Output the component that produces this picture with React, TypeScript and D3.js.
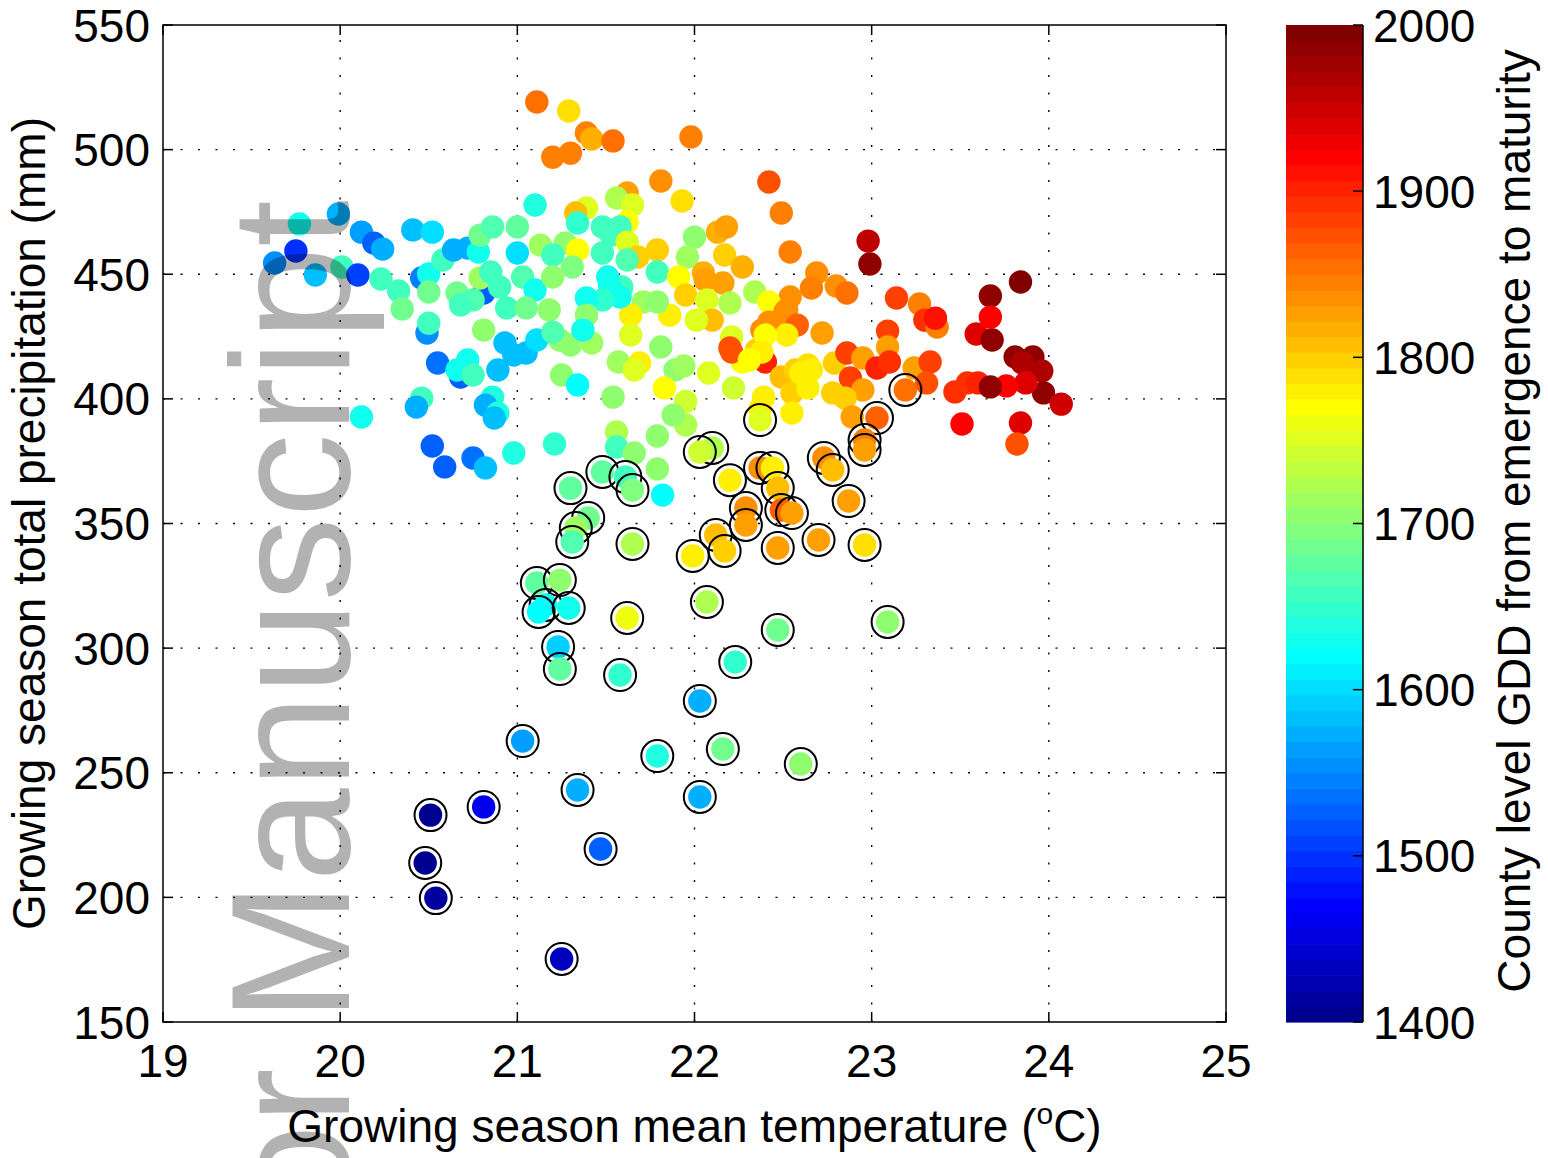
import React from "react";
import * as d3 from "d3";

// Counties: growing-season mean temperature (°C), total precipitation (mm), GDD
const countyTemp = [
  19.75, 19.63, 19.77, 19.99, 19.86, 20.01, 20.10, 20.12, 20.19, 20.24, 20.23, 20.33, 20.35, 20.41, 20.52, 20.46,
  20.50, 20.50, 20.49, 20.50, 20.58, 20.64, 20.72, 20.78, 20.79, 20.86, 21.00, 21.10, 21.00, 21.13, 20.81, 20.79,
  20.85, 20.66, 20.75, 20.68, 20.90, 21.03, 21.10, 20.94, 21.05, 20.81, 20.93, 20.98, 21.05, 21.11, 20.55, 20.68,
  20.66, 20.72, 20.75, 20.89, 20.46, 20.43, 20.86, 20.82, 20.89, 20.87, 20.12, 20.52, 20.59, 20.75, 20.82, 20.98,
  21.11, 21.29, 21.39, 21.42, 21.54, 21.20, 21.30, 21.98, 21.81, 21.93, 22.42, 22.49, 22.54, 21.62, 21.56, 21.65,
  21.39, 21.33, 21.34, 21.48, 21.62, 21.58, 21.53, 21.62, 21.68, 21.27, 21.34, 21.20, 21.48, 21.62, 21.79, 22.00,
  22.13, 22.18, 21.96, 22.17, 22.27, 22.54, 21.79, 21.91, 22.05, 22.06, 22.16, 22.34, 22.42, 22.52, 21.95, 22.07,
  22.20, 22.10, 22.01, 21.86, 21.71, 21.79, 21.64, 21.64, 21.59, 21.51, 21.52, 21.58, 21.48, 21.39, 21.39, 21.31,
  21.20, 21.18, 21.24, 21.30, 21.42, 21.37, 21.20, 21.25, 21.34, 21.54, 21.57, 21.69, 21.66, 21.81, 21.89, 21.94,
  21.83, 21.95, 22.08, 22.22, 22.21, 22.20, 22.27, 22.35, 22.40, 22.49, 22.39, 22.57, 22.55, 22.49, 22.42, 22.38,
  22.98, 22.99, 22.69, 22.66, 22.80, 22.86, 23.14, 23.27, 23.30, 23.37, 23.36, 23.59, 23.09, 23.09, 22.72, 22.51,
  22.58, 22.52, 22.40, 22.21, 22.38, 22.31, 21.95, 22.37, 22.55, 22.64, 22.60, 22.66, 22.64, 22.79, 22.86, 22.95,
  23.03, 22.88, 22.95, 22.78, 22.85, 23.10, 23.24, 23.33, 23.31, 22.89, 23.47, 23.54, 23.60, 23.51,
  23.84, 23.67, 23.67, 23.68, 23.81, 23.91, 23.85, 23.96, 23.97, 24.07, 23.87, 23.76, 23.67, 23.84, 23.82,
  21.56, 21.56, 21.66, 21.79, 21.79, 21.82, 21.21, 21.88,
];
const countyPrecip = [
  459.3, 454.5, 470.2, 474.2, 449.7, 452.9, 449.7, 466.9, 462.5, 460.1, 448.1, 443.3, 436.1, 467.8, 466.9, 448.5,
  450.1, 442.9, 426.4, 430.4, 455.7, 459.7, 460.5, 458.9, 465.7, 469.0, 469.0, 477.8, 458.5, 461.7, 442.5, 448.5,
  450.9, 442.5, 439.7, 437.7, 444.9, 448.9, 443.7, 436.5, 436.5, 427.6, 422.4, 417.6, 418.4, 423.6, 414.4, 408.8,
  411.6, 415.6, 409.6, 411.6, 400.3, 396.7, 400.7, 397.5, 394.3, 392.3, 392.7, 381.1, 372.7, 376.3, 372.3, 378.3,
  519.1, 515.5, 506.7, 504.3, 503.5, 497.0, 498.6, 505.1, 487.4, 479.4, 487.0, 474.6, 458.9, 482.6, 480.6, 477.8,
  476.6, 474.6, 470.6, 469.0, 471.0, 469.0, 465.7, 462.9, 456.9, 462.5, 459.7, 457.7, 458.5, 455.7, 459.7, 464.9,
  466.9, 469.0, 456.9, 457.7, 452.9, 440.9, 450.9, 448.9, 450.5, 447.7, 446.5, 442.9, 438.9, 435.7, 441.7, 439.7,
  438.5, 431.6, 431.6, 433.6, 438.9, 438.9, 433.6, 425.6, 444.9, 448.9, 445.7, 440.9, 439.7, 440.5, 433.6, 452.9,
  448.9, 435.7, 423.6, 421.6, 422.4, 427.6, 426.8, 409.6, 405.6, 400.7, 414.8, 414.4, 411.6, 420.8, 411.6, 413.2,
  404.4, 399.0, 410.4, 404.4, 424.8, 420.4, 414.8, 419.6, 414.8, 408.8, 400.7, 411.6, 402.4, 428.8, 430.8, 427.6,
  463.3, 454.1, 450.5, 444.5, 445.3, 442.5, 440.5, 438.1, 431.6, 428.8, 432.4, 426.0, 427.2, 420.8, 426.4, 434.8,
  429.6, 425.6, 425.6, 418.8, 418.8, 415.6, 389.5, 395.9, 394.3, 413.6, 410.4, 411.6, 404.4, 414.4, 418.4, 416.4,
  412.4, 408.4, 403.6, 402.4, 400.3, 414.8, 412.4, 414.8, 406.4, 392.7, 402.8, 406.4, 406.4, 389.9,
  446.9, 441.3, 432.8, 423.6, 416.8, 416.8, 414.4, 411.2, 402.4, 397.9, 406.4, 405.2, 404.8, 390.3, 381.9,
  386.7, 380.7, 378.3, 385.1, 371.9, 361.4, 381.9, 393.5,
];
const countyGdd = [
  1500, 1550, 1625, 1569, 1587, 1660, 1512, 1560, 1531, 1569, 1662, 1662, 1690, 1587, 1606, 1545,
  1625, 1690, 1550, 1662, 1660, 1578, 1578, 1625, 1690, 1665, 1681, 1635, 1597, 1710, 1531, 1712,
  1662, 1690, 1665, 1660, 1660, 1665, 1625, 1662, 1690, 1700, 1587, 1587, 1587, 1597, 1540, 1531,
  1625, 1625, 1660, 1587, 1655, 1569, 1640, 1569, 1635, 1587, 1625, 1531, 1531, 1540, 1587, 1635,
  1850, 1788, 1843, 1815, 1850, 1845, 1845, 1843, 1835, 1785, 1878, 1845, 1843, 1830, 1725, 1750,
  1752, 1805, 1650, 1655, 1770, 1660, 1655, 1750, 1800, 1705, 1770, 1660, 1660, 1665, 1797, 1700,
  1815, 1830, 1712, 1800, 1815, 1840, 1660, 1772, 1815, 1830, 1830, 1722, 1772, 1838, 1797, 1750,
  1720, 1812, 1750, 1778, 1712, 1705, 1775, 1755, 1660, 1625, 1625, 1625, 1650, 1625, 1700, 1695,
  1700, 1700, 1700, 1705, 1710, 1625, 1665, 1700, 1620, 1700, 1710, 1775, 1755, 1700, 1705, 1710,
  1768, 1745, 1752, 1742, 1755, 1870, 1772, 1800, 1905, 1812, 1775, 1800, 1800, 1797, 1835, 1835,
  1957, 1990, 1838, 1842, 1840, 1855, 1887, 1843, 1890, 1845, 1912, 1940, 1885, 1825, 1828, 1838,
  1860, 1775, 1770, 1875, 1775, 1772, 1720, 1775, 1775, 1788, 1780, 1782, 1780, 1802, 1885, 1825,
  1905, 1885, 1828, 1800, 1800, 1895, 1822, 1885, 1875, 1828, 1895, 1890, 1897, 1922,
  1995, 1990, 1920, 1985, 1988, 1985, 1970, 1965, 1988, 1948, 1938, 1920, 1990, 1940, 1875,
  1722, 1660, 1705, 1705, 1705, 1620, 1650, 1700,
];

// Ringed counties
const ringedTemp = [
  22.37, 22.10, 22.03, 22.37, 22.44, 22.20, 22.47, 22.73, 22.78, 23.03, 22.96, 22.96, 23.19, 22.87, 22.96, 22.70,
  22.49, 22.55, 22.29, 22.29, 22.12, 22.17, 21.99, 22.47, 21.30, 21.48, 21.61, 21.65, 21.40, 21.33, 21.31, 21.65,
  21.11, 21.24, 21.16, 21.12, 21.29, 21.62, 22.07, 22.47, 23.09, 21.23, 21.24, 21.58, 22.23, 22.03, 21.03, 21.79,
  22.16, 22.60, 21.34, 22.03, 20.51, 20.81, 20.48, 20.54, 21.47, 21.25,
];
const ringedPrecip = [
  391.5, 380.3, 378.7, 372.3, 372.3, 367.4, 364.2, 376.3, 371.5, 392.3, 383.5, 379.5, 403.6, 359.0, 341.4, 343.4,
  355.4, 354.2, 356.2, 349.4, 345.4, 339.0, 337.0, 340.2, 364.2, 370.7, 368.7, 363.4, 352.2, 348.2, 342.6, 341.8,
  326.1, 327.3, 317.3, 314.5, 316.1, 312.1, 318.5, 307.3, 310.5, 300.5, 291.6, 289.2, 294.4, 278.8, 262.7, 256.7,
  259.5, 253.5, 243.1, 240.3, 233.0, 236.3, 213.8, 199.7, 219.4, 175.3,
];
const ringedGdd = [
  1752, 1722, 1740, 1835, 1775, 1775, 1805, 1840, 1805, 1868, 1843, 1830, 1850, 1828, 1788, 1828,
  1865, 1830, 1840, 1828, 1805, 1795, 1775, 1830, 1680, 1678, 1660, 1695, 1690, 1715, 1665, 1722,
  1680, 1700, 1620, 1622, 1625, 1758, 1725, 1690, 1700, 1590, 1680, 1650, 1648, 1578, 1560, 1638,
  1690, 1700, 1569, 1575, 1409, 1457, 1409, 1412, 1531, 1433,
];

const xTicks = [19, 20, 21, 22, 23, 24, 25];
const yTicks = [150, 200, 250, 300, 350, 400, 450, 500, 550];
const gddTicks = [1400, 1500, 1600, 1700, 1800, 1900, 2000];

// MATLAB-style jet colormap with m entries
function jet(m: number): string[] {
  const n = Math.ceil(m / 4);
  const u: number[] = [];
  for (let i = 1; i <= n; i++) u.push(i / n);
  for (let i = 1; i < n; i++) u.push(1);
  for (let i = n; i >= 1; i--) u.push(i / n);
  const g0 = Math.ceil(n / 2) - (m % 4 === 1 ? 1 : 0);
  const rows = Array.from({ length: m }, () => [0, 0, 0]);
  u.forEach((val, i) => {
    const g = g0 + i + 1;
    const r = g + n;
    const b = g - n;
    if (r >= 1 && r <= m) rows[r - 1][0] = val;
    if (g >= 1 && g <= m) rows[g - 1][1] = val;
    if (b >= 1 && b <= m) rows[b - 1][2] = val;
  });
  return rows.map(([r, g, b]) => d3.rgb(r * 255, g * 255, b * 255).formatHex());
}

const FONT = "'Liberation Sans', Arial, Helvetica, sans-serif";

export default function App() {
  const W = 1548;
  const H = 1158;
  const plot = { left: 163, right: 1226, top: 25, bottom: 1022 };
  const cb = { left: 1286, right: 1363 };

  const x = d3.scaleLinear().domain([19, 25]).range([plot.left, plot.right]);
  const y = d3.scaleLinear().domain([150, 550]).range([plot.bottom, plot.top]);
  const palette = jet(64);
  const color = d3.scaleQuantize<string>().domain([1400, 2000]).range(palette);
  const cbY = d3.scaleLinear().domain([1400, 2000]).range([plot.bottom, plot.top]);
  const bandStep = (2000 - 1400) / palette.length;

  const dotR = 11.7;
  const ringR = 16;
  const tickLen = 10;
  const fs = 46;

  return (
    <svg
      width={W}
      height={H}
      viewBox={`0 0 ${W} ${H}`}
      style={{ position: "absolute", left: 0, top: 0, background: "#fff" }}
      fontFamily={FONT}
    >
      <rect x={0} y={0} width={W} height={H} fill="#fff" />

      {/* dotted grid */}
      <g stroke="#000" strokeWidth={1.4} strokeDasharray="2 15.5">
        {xTicks.slice(1, -1).map((t) => (
          <line key={`gx${t}`} x1={x(t)} x2={x(t)} y1={plot.bottom} y2={plot.top} />
        ))}
        {yTicks.slice(1, -1).map((t) => (
          <line key={`gy${t}`} x1={plot.left} x2={plot.right} y1={y(t)} y2={y(t)} />
        ))}
      </g>

      {/* counties */}
      <g>
        {countyTemp.map((t, i) => (
          <circle key={`c${i}`} cx={x(t)} cy={y(countyPrecip[i])} r={dotR} fill={color(countyGdd[i])} />
        ))}
      </g>
      <g>
        {ringedTemp.map((t, i) => (
          <g key={`r${i}`}>
            <circle cx={x(t)} cy={y(ringedPrecip[i])} r={ringR} fill="none" stroke="#000" strokeWidth={2} />
            <circle cx={x(t)} cy={y(ringedPrecip[i])} r={dotR} fill={color(ringedGdd[i])} />
          </g>
        ))}
      </g>

      {/* axes box and inward ticks */}
      <g stroke="#000" strokeWidth={1.5}>
        <rect x={plot.left} y={plot.top} width={plot.right - plot.left} height={plot.bottom - plot.top} fill="none" />
        {xTicks.map((t) => (
          <g key={`tx${t}`}>
            <line x1={x(t)} x2={x(t)} y1={plot.bottom} y2={plot.bottom - tickLen} />
            <line x1={x(t)} x2={x(t)} y1={plot.top} y2={plot.top + tickLen} />
          </g>
        ))}
        {yTicks.map((t) => (
          <g key={`ty${t}`}>
            <line x1={plot.left} x2={plot.left + tickLen} y1={y(t)} y2={y(t)} />
            <line x1={plot.right} x2={plot.right - tickLen} y1={y(t)} y2={y(t)} />
          </g>
        ))}
      </g>

      {/* tick labels */}
      <g fontSize={fs} fill="#000">
        {xTicks.map((t) => (
          <text key={`lx${t}`} x={x(t)} y={1077} textAnchor="middle">
            {t}
          </text>
        ))}
        {yTicks.map((t) => (
          <text key={`ly${t}`} x={150} y={y(t) + 16.5} textAnchor="end">
            {t}
          </text>
        ))}
      </g>

      {/* axis titles */}
      <text x={(plot.left + plot.right) / 2} y={1142} textAnchor="middle" fontSize={fs} fill="#000">
        Growing season mean temperature (
        <tspan fontSize={30} dy={-18}>o</tspan>
        <tspan dy={18}>C)</tspan>
      </text>
      <text
        transform={`translate(45, ${(plot.top + plot.bottom) / 2}) rotate(-90)`}
        textAnchor="middle"
        fontSize={fs}
        fill="#000"
      >
        Growing season total precipitation (mm)
      </text>

      {/* colorbar */}
      <g>
        {palette.map((c, i) => {
          const v0 = 1400 + i * bandStep;
          const v1 = v0 + bandStep;
          return (
            <rect
              key={`cb${i}`}
              x={cb.left}
              width={cb.right - cb.left}
              y={cbY(v1)}
              height={cbY(v0) - cbY(v1) + 0.6}
              fill={c}
            />
          );
        })}
        <line x1={cb.right} x2={cb.right} y1={plot.top} y2={plot.bottom} stroke="#000" strokeWidth={1.5} />
        {gddTicks.map((t) => (
          <line key={`cbt${t}`} x1={cb.right - tickLen} x2={cb.right} y1={cbY(t)} y2={cbY(t)} stroke="#000" strokeWidth={1.5} />
        ))}
        {gddTicks.map((t) => (
          <text key={`cbl${t}`} x={1373} y={cbY(t) + 16.5} fontSize={fs} fill="#000">
            {t}
          </text>
        ))}
      </g>
      <text
        transform={`translate(1530, 521) rotate(-90)`}
        textAnchor="middle"
        fontSize={fs}
        fill="#000"
      >
        County level GDD from emergence to maturity
      </text>

      {/* watermark */}
      <text
        transform="translate(349, 200) rotate(-90)"
        textAnchor="end"
        fontSize={168}
        fill="#000"
        fillOpacity={0.3}
      >
        Author Manuscript
      </text>
    </svg>
  );
}
